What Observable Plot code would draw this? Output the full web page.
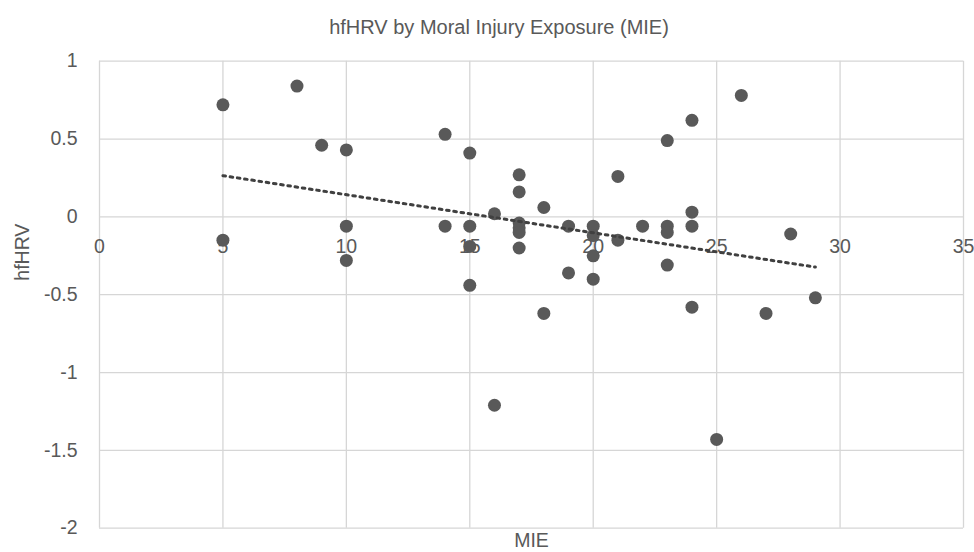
<!DOCTYPE html>
<html>
<head>
<meta charset="utf-8">
<script src="https://cdn.jsdelivr.net/npm/d3@7"></script>
<script src="https://cdn.jsdelivr.net/npm/@observablehq/plot@0.6"></script>
<style>
  body { margin: 0; background: #fff; }
  #wrap { width: 974px; height: 552px; position: relative; }
  #title { height: 45px; box-sizing: border-box; padding-top: 17px; padding-left: 24px; text-align: center;
           font-family: "Liberation Sans", Arial, sans-serif; font-size: 20px; line-height: 20px; color: #595959; }
</style>
</head>
<body>
<div id="wrap">
  <div id="title">hfHRV by Moral Injury Exposure (MIE)</div>
  <div id="chart"></div>
</div>
<script>
const mie   = [5, 5, 8, 9, 10, 10, 10, 14, 14, 15, 15, 15, 15, 16, 16, 17, 17, 17, 17, 17, 17, 18, 18, 19, 19, 20, 20, 20, 20, 21, 21, 22, 23, 23, 23, 23, 24, 24, 24, 24, 25, 26, 27, 28, 29];
const hfhrv = [0.72, -0.15, 0.84, 0.46, 0.43, -0.06, -0.28, 0.53, -0.06, 0.41, -0.06, -0.19, -0.44, 0.02, -1.21, 0.27, 0.16, -0.04, -0.07, -0.10, -0.20, 0.06, -0.62, -0.06, -0.36, -0.06, -0.12, -0.25, -0.40, 0.26, -0.15, -0.06, 0.49, -0.06, -0.10, -0.31, 0.62, 0.03, -0.06, -0.58, -1.43, 0.78, -0.62, -0.11, -0.52];
const xTicks = [0, 5, 10, 15, 20, 25, 30, 35];
const yTicks = [-2, -1.5, -1, -0.5, 0, 0.5, 1];

const data = mie.map((x, i) => ({x, y: hfhrv[i]}));

const grid = "#d6d6d6";
const txt = "#595959";

const chart = Plot.plot({
  width: 974,
  height: 507,
  marginLeft: 99,
  marginRight: 11,
  marginTop: 15.7,
  marginBottom: 24.3,
  style: {fontFamily: "Liberation Sans, Arial, sans-serif", fontSize: "19.5px", color: txt, background: "#fff", overflow: "visible"},
  x: {domain: [0, 35], axis: null},
  y: {domain: [-2, 1]},
  marks: [
    Plot.gridX(xTicks, {stroke: grid, strokeOpacity: 1, strokeWidth: 1.3}),
    Plot.gridY(yTicks, {stroke: grid, strokeOpacity: 1, strokeWidth: 1.3}),
    Plot.axisY(yTicks, {tickSize: 0, tickPadding: 22, tickFormat: d => String(d), label: null, fill: txt}),
    Plot.text(xTicks, {x: d => d, y: 0, dy: 30, text: d => String(d), fill: txt}),
    Plot.text(["hfHRV"], {frameAnchor: "left", dx: -77, dy: -14, rotate: -90, fill: txt}),
    Plot.text(["MIE"], {frameAnchor: "bottom", dy: 19, fill: txt}),
    Plot.dot(data, {x: "x", y: "y", r: 6.5, fill: "#595959", stroke: "none"}),
    Plot.linearRegressionY(data, {x: "x", y: "y", stroke: "#404040", strokeWidth: 3, strokeDasharray: "2.6,4.7", ci: 0})
  ]
});
document.getElementById("chart").appendChild(chart);
</script>
</body>
</html>
